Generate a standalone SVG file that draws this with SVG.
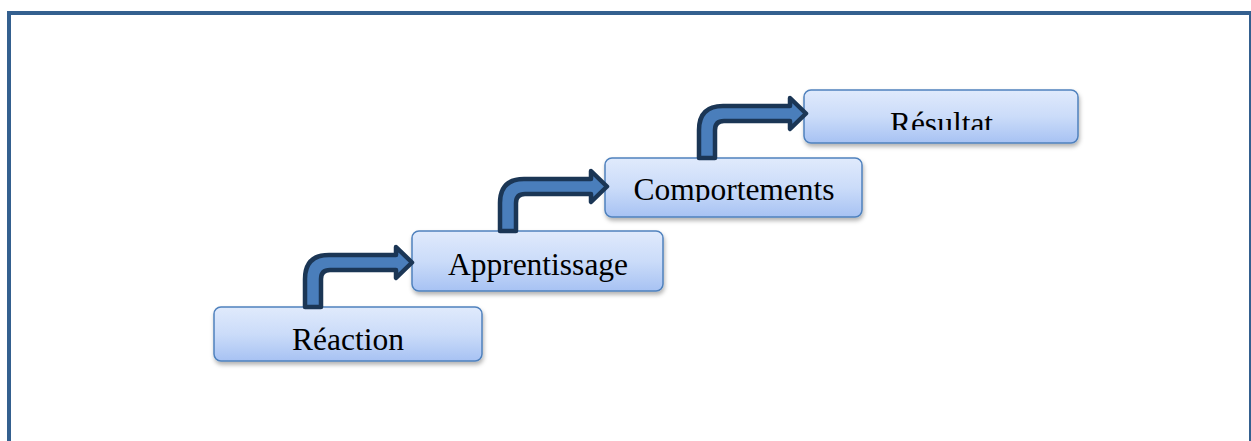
<svg xmlns="http://www.w3.org/2000/svg" width="1251" height="441" viewBox="0 0 1251 441">
<style>
.box{fill:url(#g);stroke:#4f81bd;stroke-width:1.5;filter:url(#sh)}
.lbl{font-family:"Liberation Serif","Times New Roman",serif;font-size:31.5px;fill:#000;text-anchor:middle}
.arr{fill:#4a7ebb;stroke:#1b3655;stroke-width:4.5;stroke-linejoin:round}
.frame{fill:#34608f}
</style>
<defs>
<linearGradient id="g" x1="0" y1="0" x2="0" y2="1">
<stop offset="0" stop-color="#e0eafc"/>
<stop offset="0.5" stop-color="#cbdcf9"/>
<stop offset="1" stop-color="#a7c2f3"/>
</linearGradient>
<filter id="sh" x="-10%" y="-20%" width="120%" height="160%">
<feDropShadow dx="1" dy="3" stdDeviation="2" flood-color="#000" flood-opacity="0.3"/>
</filter>
<clipPath id="c3"><rect x="600" y="150" width="270" height="52"/></clipPath>
<clipPath id="c4"><rect x="800" y="85" width="285" height="45"/></clipPath>
<path id="arrow" d="M0 0 L0 -28 Q0 -52 24 -52 L91 -52 L91 -60 L107 -44.5 L91 -29 L91 -37 L25 -37 Q16 -37 16 -28 L16 0 Z"/>
</defs>
<g id="frame">
<rect class="frame" x="7" y="11" width="4" height="430"/>
<rect class="frame" x="7" y="11" width="1244" height="4"/>
<rect class="frame" x="1249" y="11" width="2" height="430"/>
</g>
<g id="node-reaction">
<rect class="box" x="214" y="307" width="268" height="54" rx="7"/>
<text class="lbl" x="348" y="350">Réaction</text>
</g>
<g id="node-apprentissage">
<rect class="box" x="412" y="231" width="251" height="60" rx="7"/>
<text class="lbl" x="538" y="275">Apprentissage</text>
</g>
<g id="node-comportements">
<rect class="box" x="605" y="158" width="257" height="59" rx="7"/>
<text class="lbl" x="734" y="200" clip-path="url(#c3)">Comportements</text>
</g>
<g id="node-resultat">
<rect class="box" x="804" y="90" width="274" height="53" rx="7"/>
<text class="lbl" x="941.5" y="134" clip-path="url(#c4)">Résultat</text>
</g>
<g id="connectors">
<use href="#arrow" class="arr" x="305" y="307"/>
<use href="#arrow" class="arr" x="500" y="231"/>
<use href="#arrow" class="arr" x="699" y="158"/>
</g>
</svg>
